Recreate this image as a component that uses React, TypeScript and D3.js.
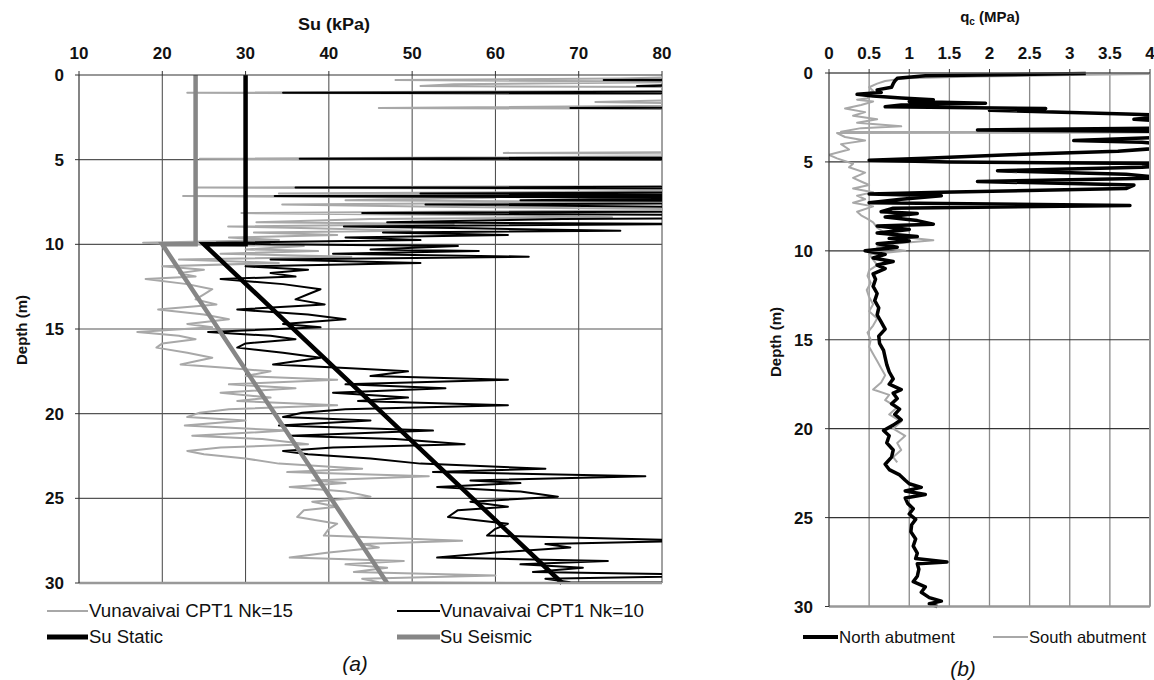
import React from "react";
import * as d3 from "d3";

// ---------- Panel (a) data ----------
const suDepths = [
  0.05, 0.2, 0.3, 0.4, 0.55, 0.65, 0.75, 0.9, 1.05, 1.15, 1.4, 1.6, 1.75, 1.95, 2.05, 2.5, 3.0, 3.5, 4.0, 4.5,
  4.6, 4.7, 4.95, 5.05, 5.5, 6.0, 6.5, 6.65, 6.75, 6.9, 7.0, 7.1, 7.15, 7.25, 7.4, 7.5, 7.65, 7.8, 7.95, 8.15,
  8.3, 8.4, 8.5, 8.7, 8.8, 8.95, 9.05, 9.2, 9.3, 9.45, 9.6, 9.75, 9.9, 10.0, 10.1, 10.3, 10.4, 10.55, 10.73, 10.9,
  11.1, 11.3, 11.5, 11.7, 11.9, 12.05, 12.35, 12.65, 12.95, 13.25, 13.55, 13.85, 14.15, 14.43, 14.7, 14.9, 15.18, 15.4, 15.6, 15.85,
  16.1, 16.4, 16.7, 16.9, 17.1, 17.3, 17.5, 17.78, 18.0, 18.27, 18.5, 18.76, 19.05, 19.25, 19.5, 19.74, 19.94, 20.2, 20.4, 20.7,
  21.0, 21.3, 21.5, 21.8, 22.0, 22.2, 22.4, 22.65, 22.95, 23.25, 23.45, 23.7, 23.94, 24.1, 24.33, 24.6, 24.9, 25.2, 25.5, 25.7,
  26.1, 26.5, 26.8, 27.2, 27.5, 27.7, 27.9, 28.2, 28.5, 28.7, 28.9, 29.1, 29.35, 29.55, 29.75, 29.95, 30.0,
];
const suNk15 = [
  90, 75, 48, 85, 55, 51, 95, 100, 23, 110, 90, 72, 95, 46, 120, 140, 160, 180, 150, 110,
  61, 120, 24.5, 110, 150, 140, 120, 24, 95, 70, 34, 85, 22.5, 60, 42, 80, 34.4, 55, 90, 29.5,
  62, 74, 45, 31.3, 55, 27.9, 38, 50, 31, 41, 28, 34, 17.7, 22, 37, 30, 38.7, 27, 42.7, 22,
  34, 20, 25, 22, 24, 18, 23, 26, 25, 24, 26.5, 19.5, 25, 28, 23, 26, 17, 22, 24, 20,
  19.3, 23, 26, 24, 22.2, 28, 33, 30, 41, 28, 36, 27, 33, 29, 41, 28, 24.5, 23, 30, 22.7,
  35, 23.6, 32, 37.5, 27, 23, 25, 30, 34, 44, 35, 52, 38, 42, 35.3, 42, 45, 38, 41, 37,
  36.2, 41, 40, 39.4, 56, 44, 46, 40, 35.3, 49, 42, 47, 43, 60, 44, 46, 62,
];
const suNk10 = [
  135, 112, 73, 128, 83, 77, 142, 150, 34.5, 165, 135, 108, 142, 69, 180, 210, 240, 270, 225, 165,
  92, 180, 36.5, 165, 225, 210, 180, 36, 142, 105, 51, 128, 33.5, 90, 63, 120, 51.6, 83, 135, 44,
  93, 111, 68, 47, 83, 41.8, 57, 75, 46.5, 61.5, 42, 51, 26.5, 33, 55.5, 45, 58, 40.5, 64, 33,
  51, 30, 37.5, 33, 36, 27, 34.5, 39, 37.5, 36, 39.5, 29, 37.5, 42, 34.5, 39, 25.5, 33, 36, 30,
  29, 34.5, 39, 36, 33.3, 42, 49.5, 45, 61.5, 42, 54, 40.5, 49.5, 43.5, 61.5, 42, 36.8, 34.5, 45, 34,
  52.5, 35.4, 48, 56.3, 40.5, 34.5, 37.5, 45, 51, 66, 52.5, 78, 57, 63, 53, 63, 67.5, 57, 61.5, 55.5,
  54.3, 61.5, 60, 59, 84, 66, 69, 60, 53, 73.5, 63, 70.5, 64.5, 90, 66, 69, 93,
];
const suStaticDepth = [0, 10, 10, 30];
const suStaticValue = [30, 30, 25, 68];
const suSeismicDepth = [0, 10, 10, 30];
const suSeismicValue = [24, 24, 20, 47];

const suTicks = [10, 20, 30, 40, 50, 60, 70, 80];
const depthTicks = [0, 5, 10, 15, 20, 25, 30];

// ---------- Panel (b) data ----------
const northDepth = [
  0.03, 0.15, 0.3, 0.45, 0.6, 0.8, 0.95, 1.1, 1.2, 1.3, 1.4, 1.5, 1.6, 1.7, 1.8, 1.9, 2.0, 2.1, 2.3, 2.4,
  2.6, 2.8, 3.1, 3.2, 3.3, 3.6, 3.8, 3.9, 4.1, 4.4, 4.6, 4.8, 4.9, 5.0, 5.1, 5.3, 5.5, 5.7, 5.9, 6.1,
  6.3, 6.5, 6.7, 6.8, 6.9, 7.1, 7.3, 7.45, 7.6, 7.8, 7.9, 8.1, 8.3, 8.5, 8.6, 8.8, 9.0, 9.2, 9.3, 9.45,
  9.6, 9.8, 10.0, 10.2, 10.4, 10.6, 10.8, 11.0, 11.3, 11.6, 12.0, 12.4, 12.8, 13.2, 13.6, 14.0, 14.4, 14.8, 15.2, 15.6,
  16.0, 16.4, 16.8, 17.2, 17.5, 17.8, 18.0, 18.3, 18.6, 18.9, 19.2, 19.5, 19.8, 20.1, 20.4, 20.8, 21.2, 21.6, 22.0, 22.3,
  22.6, 22.9, 23.1, 23.3, 23.5, 23.7, 23.9, 24.2, 24.5, 24.8, 25.1, 25.4, 25.8, 26.2, 26.6, 27.0, 27.3, 27.5, 27.6, 27.9,
  28.3, 28.6, 28.9, 29.2, 29.5, 29.7, 29.85, 30.0,
];
const northQc = [
  3.2, 1.2, 0.85, 0.82, 0.8, 0.78, 0.6, 0.65, 0.35, 0.55, 0.9, 1.3, 1.0, 1.95, 0.9, 0.7, 2.7, 2.0, 3.7, 4.3,
  3.8, 4.5, 4.2, 1.85, 4.5, 4.3, 3.05, 3.9, 4.5, 3.6, 2.25, 1.2, 0.5, 1.5, 4.5, 3.9, 2.1, 3.7, 4.2, 1.85,
  3.8, 3.7, 1.4, 0.5, 1.4, 0.9, 0.5, 3.75, 0.8, 0.65, 1.1, 0.7, 1.1, 1.3, 0.6, 1.0, 0.6, 1.1, 0.75, 1.0,
  0.6, 0.85, 0.45, 0.7, 0.55, 0.8, 0.6, 0.7, 0.55, 0.58, 0.55, 0.6, 0.57, 0.62, 0.6, 0.65, 0.7, 0.62, 0.63, 0.68,
  0.7, 0.72, 0.75, 0.8, 0.75, 0.9, 0.8, 0.85, 0.78, 0.88, 0.82, 0.9, 0.8, 0.68, 0.75, 0.72, 0.8, 0.78, 0.7, 0.75,
  0.88, 0.95, 1.0, 1.15, 0.95, 1.2, 0.95, 0.98, 1.05, 1.0, 1.08, 1.03, 1.02, 1.08, 1.05, 1.1, 1.08, 1.47, 1.1, 1.12,
  1.1, 1.05, 1.2, 1.15, 1.25, 1.4, 1.25, 1.35,
];
const southDepth = [
  0.03, 0.1, 0.2, 0.3, 0.45, 0.6, 0.8, 1.0, 1.2, 1.4, 1.5, 1.6, 1.8, 2.0, 2.2, 2.4, 2.6, 2.8, 3.0, 3.1,
  3.3, 3.34, 3.38, 3.6, 3.8, 4.0, 4.3, 4.6, 4.8, 5.1, 5.3, 5.6, 5.9, 6.1, 6.3, 6.5, 6.7, 6.9, 7.1, 7.3,
  7.5, 7.8, 8.0, 8.2, 8.4, 8.7, 9.0, 9.2, 9.4, 9.6, 9.8, 10.0, 10.2, 10.5, 10.8, 11.1, 11.4, 11.8, 12.2, 12.6,
  13.0, 13.4, 13.8, 14.2, 14.6, 15.0, 15.4, 15.8, 16.2, 16.6, 17.0, 17.4, 17.8, 18.1, 18.4, 18.8, 19.2, 19.6, 20.0, 20.4,
  20.8, 21.2, 21.6, 21.9,
];
const southQc = [
  4.5, 3.2, 1.84, 0.95, 0.7, 0.6, 0.5, 0.55, 0.45, 0.5, 0.35, 0.55, 0.4, 0.2, 0.45, 0.3, 0.6, 0.35, 0.9, 0.4,
  0.15, 4.5, 0.1, 0.2, 0.45, 0.15, 0.25, 0.0, 0.1, 0.3, 0.25, 0.45, 0.3, 0.4, 0.5, 0.3, 0.55, 0.35, 0.45, 0.3,
  0.55, 0.35, 0.4, 0.48, 0.55, 0.6, 0.7, 0.85, 1.3, 0.8, 0.6, 0.95, 0.5, 0.55, 0.6, 0.5, 0.48, 0.52, 0.47, 0.5,
  0.55, 0.5, 0.6, 0.55, 0.48, 0.52, 0.5, 0.55, 0.6, 0.65, 0.7, 0.65, 0.55, 0.75, 0.7, 0.85, 0.75, 0.9, 0.8, 0.95,
  0.85, 0.9, 0.8, 0.85,
];
const qcTicks = [0, 0.5, 1, 1.5, 2, 2.5, 3, 3.5, 4];

const FONT = "'Liberation Sans', Arial, sans-serif";

type Pt = [number, number];
const zip = (a: number[], b: number[]): Pt[] => a.map((v, i) => [b[i], v]);

export default function App() {
  // Panel (a) scales
  const xA = d3.scaleLinear().domain([10, 80]).range([79, 662]);
  const yA = d3.scaleLinear().domain([0, 30]).range([75, 583]);
  // Panel (b) scales
  const xB = d3.scaleLinear().domain([0, 4]).range([829, 1150]);
  const yB = d3.scaleLinear().domain([0, 30]).range([73, 606.5]);

  const lineA = d3.line<Pt>().x((d) => xA(d[0])).y((d) => yA(d[1]));
  const lineB = d3.line<Pt>().x((d) => xB(d[0])).y((d) => yB(d[1]));

  const fmt = (v: number) => String(v);

  return (
    <svg width={1154} height={680} style={{ position: "absolute", left: 0, top: 0, background: "#fff" }} fontFamily={FONT}>
      <defs>
        <clipPath id="clipA">
          <rect x={79} y={72} width={583} height={514} />
        </clipPath>
        <clipPath id="clipB">
          <rect x={829} y={70} width={321} height={540} />
        </clipPath>
      </defs>
      <rect x={0} y={0} width={1154} height={680} fill="#fff" />

      {/* ===== Panel (a) ===== */}
      <g>
        {suTicks.slice(1).map((t) => (
          <line key={"gxa" + t} x1={xA(t)} x2={xA(t)} y1={yA(0)} y2={yA(30)} stroke="#444" strokeWidth={1} />
        ))}
        {depthTicks.slice(1, -1).map((t) => (
          <line key={"gya" + t} x1={xA(10)} x2={xA(80)} y1={yA(t)} y2={yA(t)} stroke="#555" strokeWidth={1.2} />
        ))}
        <g clipPath="url(#clipA)">
          <path d={lineA(zip(suDepths, suNk15)) || ""} fill="none" stroke="#a8a8a8" strokeWidth={2} strokeLinejoin="round" />
          <path d={lineA(zip(suDepths, suNk10)) || ""} fill="none" stroke="#000" strokeWidth={2} strokeLinejoin="round" />
          <path d={lineA(zip(suSeismicDepth, suSeismicValue)) || ""} fill="none" stroke="#868686" strokeWidth={4.5} />
          <path d={lineA(zip(suStaticDepth, suStaticValue)) || ""} fill="none" stroke="#000" strokeWidth={4.5} />
        </g>
        <line x1={xA(10)} x2={xA(80)} y1={yA(30)} y2={yA(30)} stroke="#999" strokeWidth={2.5} />
        <line x1={xA(10)} x2={xA(80)} y1={yA(0)} y2={yA(0)} stroke="#333" strokeWidth={1.2} />
        <line x1={xA(10)} x2={xA(10)} y1={yA(0)} y2={yA(30)} stroke="#333" strokeWidth={1.2} />
        {suTicks.map((t) => (
          <g key={"tx" + t}>
            <line x1={xA(t)} x2={xA(t)} y1={yA(0) - 4} y2={yA(0)} stroke="#333" />
            <text x={xA(t)} y={yA(0) - 16} textAnchor="middle" fontSize={17} fontWeight="bold" fill="#111">
              {fmt(t)}
            </text>
          </g>
        ))}
        {depthTicks.map((t) => (
          <g key={"ty" + t}>
            <line x1={xA(10) - 4} x2={xA(10)} y1={yA(t)} y2={yA(t)} stroke="#333" />
            <text x={xA(10) - 15} y={yA(t) + 6} textAnchor="end" fontSize={17} fontWeight="bold" fill="#111">
              {fmt(t)}
            </text>
          </g>
        ))}
        <text x={334} y={30} textAnchor="middle" fontSize={16} fontWeight="bold" fill="#111" textLength={72} lengthAdjust="spacingAndGlyphs">
          Su (kPa)
        </text>
        <text transform="translate(27,330) rotate(-90)" textAnchor="middle" fontSize={15} fontWeight="bold" fill="#111">
          Depth (m)
        </text>
        {/* Legend (a) */}
        <line x1={47} x2={88} y1={611} y2={611} stroke="#a8a8a8" strokeWidth={2} />
        <text x={89} y={617} fontSize={18} fill="#111" textLength={204} lengthAdjust="spacingAndGlyphs">Vunavaivai CPT1 Nk=15</text>
        <line x1={397} x2={440} y1={611} y2={611} stroke="#000" strokeWidth={2} />
        <text x={440} y={617} fontSize={18} fill="#111" textLength={204} lengthAdjust="spacingAndGlyphs">Vunavaivai CPT1 Nk=10</text>
        <line x1={47} x2={88} y1={637} y2={637} stroke="#000" strokeWidth={5} />
        <text x={89} y={643} fontSize={18} fill="#111" textLength={74} lengthAdjust="spacingAndGlyphs">Su Static</text>
        <line x1={397} x2={440} y1={637} y2={637} stroke="#868686" strokeWidth={5} />
        <text x={440} y={643} fontSize={18} fill="#111" textLength={92} lengthAdjust="spacingAndGlyphs">Su Seismic</text>
        <text x={355} y={671} textAnchor="middle" fontSize={21} fontStyle="italic" fill="#111">(a)</text>
      </g>

      {/* ===== Panel (b) ===== */}
      <g>
        {qcTicks.slice(1).map((t) => (
          <line key={"gxb" + t} x1={xB(t)} x2={xB(t)} y1={yB(0)} y2={yB(30)} stroke="#8a8a8a" strokeWidth={1.3} />
        ))}
        {depthTicks.slice(1, -1).map((t) => (
          <line key={"gyb" + t} x1={xB(0)} x2={xB(4)} y1={yB(t)} y2={yB(t)} stroke="#333" strokeWidth={1.2} />
        ))}
        <g clipPath="url(#clipB)">
          <path d={lineB(zip(southDepth, southQc)) || ""} fill="none" stroke="#a8a8a8" strokeWidth={2} strokeLinejoin="round" />
          <path d={lineB(zip(northDepth, northQc)) || ""} fill="none" stroke="#000" strokeWidth={3.5} strokeLinejoin="round" />
        </g>
        <line x1={xB(0)} x2={xB(4)} y1={yB(30)} y2={yB(30)} stroke="#999" strokeWidth={2.5} />
        <line x1={xB(4)} x2={xB(4)} y1={yB(0)} y2={yB(30)} stroke="#999" strokeWidth={2} />
        <line x1={xB(0)} x2={xB(4)} y1={yB(0)} y2={yB(0)} stroke="#555" strokeWidth={1.5} />
        <line x1={xB(0)} x2={xB(0)} y1={yB(0)} y2={yB(30)} stroke="#333" strokeWidth={1.2} />
        {qcTicks.map((t) => (
          <g key={"txb" + t}>
            <line x1={xB(t)} x2={xB(t)} y1={yB(0) - 4} y2={yB(0)} stroke="#333" />
            <text x={xB(t)} y={yB(0) - 14} textAnchor="middle" fontSize={17} fontWeight="bold" fill="#111">
              {fmt(t)}
            </text>
          </g>
        ))}
        {depthTicks.map((t) => (
          <g key={"tyb" + t}>
            <line x1={xB(0) - 4} x2={xB(0)} y1={yB(t)} y2={yB(t)} stroke="#333" />
            <text x={xB(0) - 16} y={yB(t) + 6} textAnchor="end" fontSize={17} fontWeight="bold" fill="#111">
              {fmt(t)}
            </text>
          </g>
        ))}
        <text x={990} y={22} textAnchor="middle" fontSize={15} fontWeight="bold" fill="#111">
          q<tspan fontSize={10} dy={3}>c</tspan>
          <tspan dy={-3}> (MPa)</tspan>
        </text>
        <text transform="translate(781,342) rotate(-90)" textAnchor="middle" fontSize={15} fontWeight="bold" fill="#111">
          Depth (m)
        </text>
        {/* Legend (b) */}
        <line x1={803} x2={838} y1={637} y2={637} stroke="#000" strokeWidth={4} />
        <text x={839} y={643} fontSize={16.5} fill="#111" textLength={116} lengthAdjust="spacingAndGlyphs">North abutment</text>
        <line x1={993} x2={1028} y1={637} y2={637} stroke="#a8a8a8" strokeWidth={2} />
        <text x={1029} y={643} fontSize={16.5} fill="#111" textLength={117} lengthAdjust="spacingAndGlyphs">South abutment</text>
        <text x={963} y={676} textAnchor="middle" fontSize={21} fontStyle="italic" fill="#111">(b)</text>
      </g>
    </svg>
  );
}
